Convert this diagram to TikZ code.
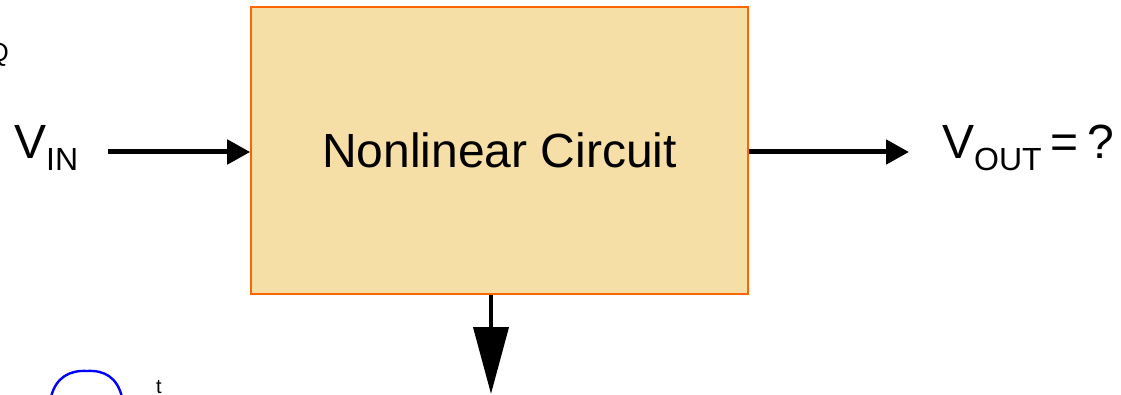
\documentclass[tikz,border=0pt]{standalone}
\usepackage{fontspec}
\setmainfont{Liberation Sans}
\usetikzlibrary{arrows.meta}
\definecolor{boxfill}{RGB}{246,223,166}
\definecolor{boxline}{RGB}{255,102,0}
\definecolor{pulse}{RGB}{0,0,255}
\tikzset{
  big/.style={font=\fontsize{48}{48}\selectfont, inner sep=0pt},
  flow/.style={line width=5pt, -{Triangle[length=23pt,width=24pt]}},
  drop/.style={line width=4pt, -{Triangle[length=67pt,width=35pt]}},
}
\newcommand{\sub}[1]{\raisebox{-12pt}{\fontsize{32}{32}\selectfont #1}}
\begin{document}
\begin{tikzpicture}[x=1pt,y=-1pt]
\useasboundingbox (0,0) rectangle (1121,395);
\clip (0,0) rectangle (1121,395);
\node[draw=boxline, line width=1.6pt, fill=boxfill, minimum width=497pt, minimum height=287pt, inner sep=0pt,
      font=\fontsize{48}{48}\selectfont] (box) at (499.5,150.5) {Nonlinear Circuit};
\node[big, anchor=base west] (vin) at (14,159) {V\sub{IN}};
\node[big, anchor=base west] (vout) at (942,159) {V\sub{OUT}\hspace{9pt}=\hspace{9pt}?};
\node[font=\fontsize{26}{26}\selectfont, inner sep=0pt, anchor=base east] (q) at (9,62) {Q};
\node[font=\fontsize{20}{20}\selectfont, inner sep=0pt, anchor=base west] (t) at (156,393) {t};
\coordinate (inStart) at (108,152);
\coordinate (outEnd) at (909,152);
\coordinate (downEnd) at (491,394);
\draw[flow] (inStart) -- (inStart -| box.west);
\draw[flow] (box.east |- outEnd) -- (outEnd);
\draw[drop] (downEnd |- box.south) -- (downEnd);
\draw[pulse, line width=2.4pt] (51,397) .. controls (56,377) and (70,370) .. (87,371)
  .. controls (104,370) and (117,377) .. (122,397);
\end{tikzpicture}
\end{document}
